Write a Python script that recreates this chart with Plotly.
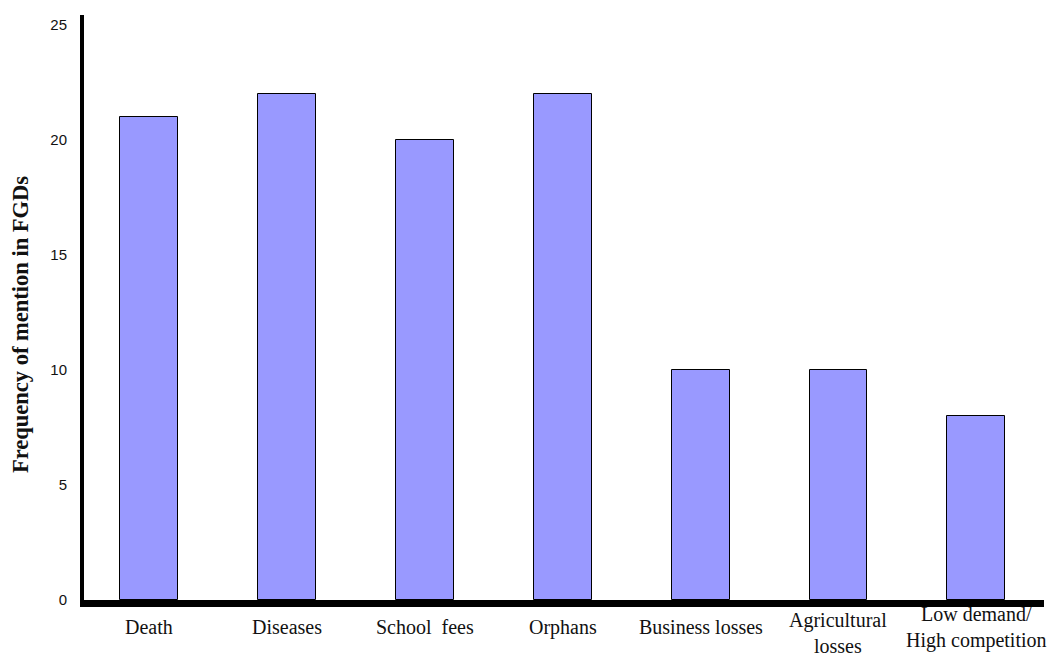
import plotly.graph_objects as go

categories = ["Death", "Diseases", "School  fees", "Orphans", "Business losses",
              "Agricultural<br>losses", "Low demand/<br>High competition"]
values = [21, 22, 20, 22, 10, 10, 8]
y_ticks = [0, 5, 10, 15, 20, 25]
y_title = "Frequency of mention in FGDs"

# label vertical anchoring (style only)
label_anchor = ["middle", "middle", "middle", "middle", "middle", "bottom", "middle"]
label_shift = {"middle": -27, "bottom": -59}

fig = go.Figure()
fig.add_trace(go.Bar(
    x=list(range(len(categories))),
    y=values,
    width=0.42,
    marker=dict(color="#9999FF", line=dict(color="#000000", width=1)),
    hoverinfo="skip",
))

fig.update_layout(
    width=1059, height=659,
    margin=dict(l=84, r=15, t=15, b=59),
    paper_bgcolor="white", plot_bgcolor="white",
    showlegend=False,
    bargap=0,
)
fig.update_xaxes(
    automargin=False,
    range=[-0.47, 6.49],
    tickmode="array",
    tickvals=list(range(len(categories))),
    showticklabels=False,
    showline=True, linecolor="black", linewidth=7,
    showgrid=False, zeroline=False, ticks="",
)
fig.update_yaxes(
    automargin=False,
    range=[0, 25.43],
    tickmode="array",
    tickvals=y_ticks,
    showline=True, linecolor="black", linewidth=4,
    showgrid=False, zeroline=False, ticks="",
    ticklabelstandoff=10,
    tickfont=dict(family="Liberation Sans", size=15, color="#111111"),
)

for i, (cat, anc) in enumerate(zip(categories, label_anchor)):
    fig.add_annotation(
        x=i, xref="x", y=0, yref="paper",
        text=cat, showarrow=False,
        yanchor=anc, xanchor="center", align="center",
        yshift=label_shift[anc],
        font=dict(family="Liberation Serif", size=20, color="#111111"),
    )

fig.add_annotation(
    x=0, xref="paper", xshift=-64, y=0.47, yref="paper",
    text="<b>" + y_title + "</b>", textangle=-90, showarrow=False,
    xanchor="center", yanchor="middle",
    font=dict(family="Liberation Serif", size=22.5, color="#111111"),
)

fig.write_html("out.html")
